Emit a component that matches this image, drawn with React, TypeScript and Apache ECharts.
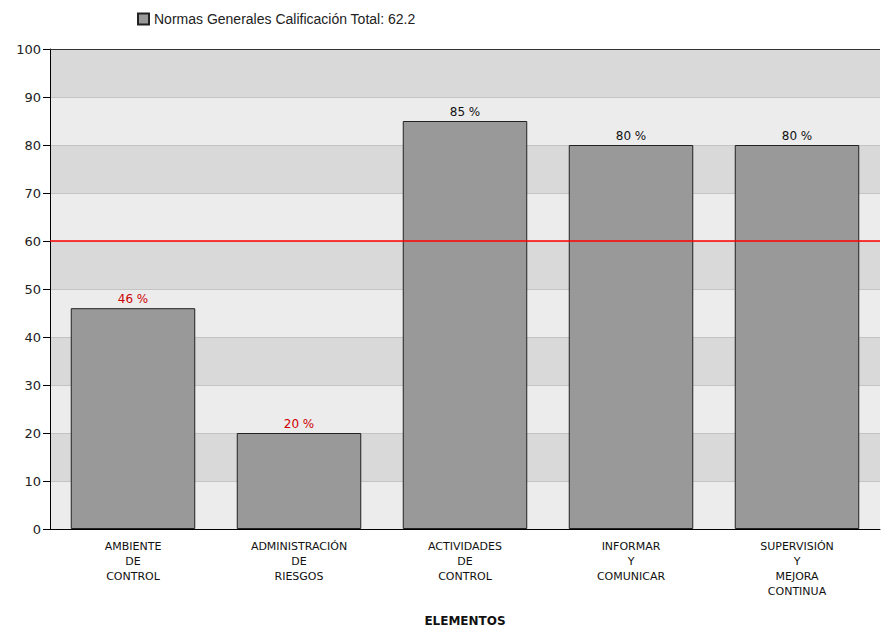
import React, { useEffect, useRef } from "react";
import * as echarts from "echarts";

const categories = ["AMBIENTE\nDE\nCONTROL", "ADMINISTRACIÓN\nDE\nRIESGOS", "ACTIVIDADES\nDE\nCONTROL", "INFORMAR\nY\nCOMUNICAR", "SUPERVISIÓN\nY\nMEJORA\nCONTINUA"];
const values = [46, 20, 85, 80, 80];
const seriesName = "Normas Generales Calificación Total: 62.2";
const threshold = 60;
const xAxisName = "ELEMENTOS";

export default function App() {
  const ref = useRef<HTMLDivElement>(null);
  useEffect(() => {
    const chart = echarts.init(ref.current!, null, { renderer: "svg" });
    const font = "Tahoma, 'DejaVu Sans', Verdana, sans-serif";
    chart.setOption({
      animation: false,
      backgroundColor: "#ffffff",
      textStyle: { fontFamily: font },
      legend: {
        data: [seriesName],
        left: 132,
        top: 7,
        itemWidth: 11,
        itemHeight: 11,
        itemGap: 6,
        icon: "rect",
        textStyle: { fontSize: 14, color: "#222", fontFamily: "'Liberation Sans', Arial, sans-serif" },
      },
      grid: { left: 50, right: 2, top: 49, bottom: 107, show: false },
      xAxis: {
        type: "category",
        data: categories,
        name: xAxisName,
        nameLocation: "middle",
        nameGap: 86,
        nameTextStyle: { fontWeight: "bold", fontSize: 12, color: "#111", fontFamily: font },
        axisLine: { lineStyle: { color: "#000", width: 1 } },
        axisTick: { alignWithLabel: true, length: 6, lineStyle: { color: "#000" } },
        axisLabel: { fontSize: 11, color: "#111", lineHeight: 15, margin: 10, interval: 0 },
      },
      yAxis: {
        type: "value",
        min: 0,
        max: 100,
        interval: 10,
        axisLine: { show: true, lineStyle: { color: "#000", width: 1 } },
        axisTick: { show: true, length: 7, lineStyle: { color: "#000" } },
        axisLabel: { fontSize: 13, color: "#222", margin: 9 },
        splitLine: { show: true, lineStyle: { color: "#c4c4c4", width: 1 } },
        splitArea: { show: true, areaStyle: { color: ["#ececec", "#d9d9d9"] } },
      },
      graphic: [
        { type: "line", shape: { x1: 50, y1: 49.5, x2: 880, y2: 49.5 }, style: { stroke: "#333", lineWidth: 1 }, z: 10 },
      ],
      series: [
        {
          name: "umbral",
          type: "line",
          z: 1,
          data: [],
          markLine: {
            symbol: "none",
            label: { formatter: "" },
            emphasis: { disabled: true },
            lineStyle: { color: "#ff0000", type: "solid", width: 1.5 },
            data: [{ yAxis: threshold }],
          },
        },
        {
          name: seriesName,
          type: "bar",
          z: 3,
          data: values.map((v) => ({
            value: v,
            label: { color: v < threshold ? "#cc0000" : "#111" },
          })),
          barWidth: "75%",
          itemStyle: { color: "#999999", borderColor: "#222", borderWidth: 1 },
          label: { show: true, position: "top", distance: 3, fontSize: 12, formatter: "{c} %" },
        },
      ],
    });
    return () => chart.dispose();
  }, []);
  return <div ref={ref} style={{ position: "absolute", left: 0, top: 0, width: 882, height: 636 }} />;
}
